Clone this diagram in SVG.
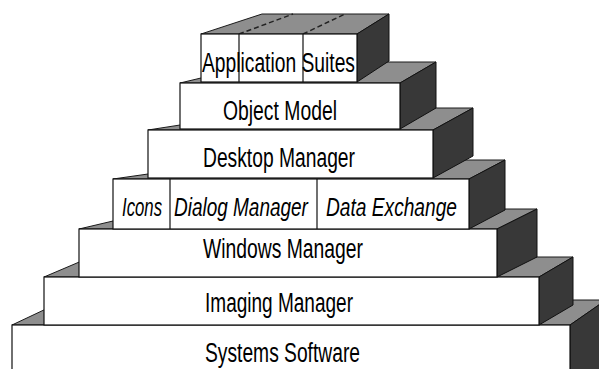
<svg xmlns="http://www.w3.org/2000/svg" width="599" height="369" viewBox="0 0 599 369">
<style>
.top{fill:#8e8e8e;stroke:#1a1a1a;stroke-width:1}
.side{fill:#383838;stroke:#111;stroke-width:1}
.front{fill:#fff;stroke:#111;stroke-width:1.2}
.div{stroke:#111;stroke-width:1.2}
.hatch{stroke:#222;stroke-width:1.5;stroke-dasharray:5 3;fill:none}
text{font-family:"Liberation Sans",Arial,sans-serif;font-size:27px;fill:#000}
.it{font-style:italic;font-size:26px}
</style>
<rect width="599" height="369" fill="#fff"/>
<g id="systems-software">
<polygon class="top" points="12,325 570,325 606,300 65,300"/>
<polygon class="side" points="570,325 606,300 606,370 570,370"/>
<rect class="front" x="12" y="325" width="558" height="50"/>
<text x="205" y="362" textLength="155" lengthAdjust="spacingAndGlyphs">Systems Software</text>
</g>
<g id="imaging-manager">
<polygon class="top" points="44,277 539,277 573,257 91,257"/>
<polygon class="side" points="539,277 573,257 573,305 539,325"/>
<rect class="front" x="44" y="277" width="495" height="48"/>
<text x="205" y="312" textLength="148" lengthAdjust="spacingAndGlyphs">Imaging Manager</text>
</g>
<g id="windows-manager">
<polygon class="top" points="79,229 497,229 537,209 164,209"/>
<polygon class="side" points="497,229 537,209 537,257 497,277"/>
<rect class="front" x="79" y="229" width="418" height="48"/>
<text x="203" y="258" textLength="160" lengthAdjust="spacingAndGlyphs">Windows Manager</text>
</g>
<g id="toolbox-row">
<polygon class="top" points="113,179 469,179 505,160 246,160"/>
<polygon class="side" points="469,179 505,160 505,210 469,229"/>
<rect class="front" x="113" y="179" width="356" height="50"/>
<line class="div" x1="170" y1="179" x2="170" y2="229"/>
<line class="div" x1="317" y1="179" x2="317" y2="229"/>
<text class="it" transform="translate(122,216) scale(0.645,1)">Icons</text>
<text class="it" transform="translate(174,216) scale(0.73,1)">Dialog Manager</text>
<text class="it" transform="translate(326,216) scale(0.737,1)">Data Exchange</text>
</g>
<g id="desktop-manager">
<polygon class="top" points="148,130 433,130 473,108 289,108"/>
<polygon class="side" points="433,130 473,108 473,156 433,178"/>
<rect class="front" x="148" y="130" width="285" height="48"/>
<text x="203" y="167" textLength="152" lengthAdjust="spacingAndGlyphs">Desktop Manager</text>
</g>
<g id="object-model">
<polygon class="top" points="180,83 400,83 436,62 268,62"/>
<polygon class="side" points="400,83 436,62 436,108 400,129"/>
<rect class="front" x="180" y="83" width="220" height="46"/>
<text x="223" y="120" font-size="28" textLength="114" lengthAdjust="spacingAndGlyphs">Object Model</text>
</g>
<g id="application-suites">
<polygon class="top" points="201,34 357,34 389,14 262,14"/>
<line class="hatch" x1="239" y1="34" x2="293" y2="14"/>
<line class="hatch" x1="303" y1="34" x2="345" y2="14"/>
<polygon class="side" points="357,34 389,14 389,61 357,82"/>
<rect class="front" x="201" y="34" width="156" height="48"/>
<line class="div" x1="239" y1="34" x2="239" y2="82"/>
<line class="div" x1="303" y1="34" x2="303" y2="82"/>
<text x="202" y="72" font-size="31" textLength="153" lengthAdjust="spacingAndGlyphs">Application Suites</text>
</g>
</svg>
